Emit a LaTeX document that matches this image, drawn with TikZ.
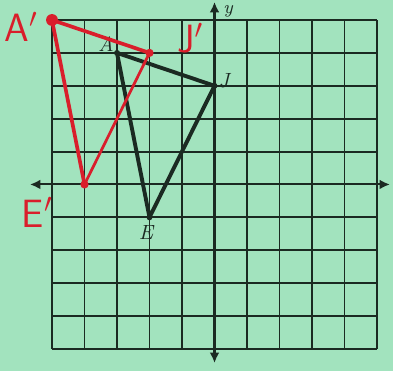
\documentclass[tikz,border=0pt]{standalone}
\usepackage{tikz}
\usetikzlibrary{arrows.meta}
\definecolor{paper}{HTML}{A2E3BE}
\definecolor{pencil}{HTML}{1B2A22}
\definecolor{pen}{HTML}{D91E2B}

\begin{document}
\begin{tikzpicture}[x=0.5cm, y=0.506cm,
        gridline/.style={pencil, line width=0.85pt},
        axis/.style={{Latex[length=1.6mm,width=1.5mm]}-{Latex[length=1.6mm,width=1.5mm]}, pencil, line width=0.9pt},
        orig/.style={pencil, line width=1.7pt, line join=round},
        image/.style={pen, line width=1.6pt, line join=round, line cap=round},
        odot/.style={circle, fill=pencil, inner sep=0pt, minimum size=2.6pt},
        idot/.style={circle, fill=pen, inner sep=0pt, minimum size=3.6pt},
        olabel/.style={font=\small\itshape, text=pencil, inner sep=0pt},
        ilabel/.style={font=\LARGE\sffamily, text=pen, inner sep=0pt}
    ]
        \fill[paper] (-6.6,-5.669) rectangle (5.492,5.608);
        \useasboundingbox (-6.6,-5.669) rectangle (5.492,5.608);

        % grid
        \foreach \k in {-5,...,5} {
            \draw[gridline] (\k,-5) -- (\k,5);
            \draw[gridline] (-5,\k) -- (5,\k);
        }

        % axes
        \coordinate (xmin) at (-5.68,0);
        \coordinate (xmax) at (5.4,0);
        \coordinate (ymin) at (0,-5.43);
        \coordinate (ymax) at (0,5.55);
        \draw[axis] (xmin) -- (xmax);
        \draw[axis] (ymin) -- (ymax);
        \node[olabel, font=\footnotesize\itshape] (ylab) at (0.42,5.27) {y};

        % triangle AJE
        \node[odot] (A) at (-3,4) {};
        \node[odot] (J) at (0,3) {};
        \node[odot] (E) at (-2,-1) {};
        \draw[orig] (A.center) -- (J.center) -- (E.center) -- cycle;
        \node[olabel] (Alab) at (-3.34,4.27) {A};
        \node[olabel] (Jlab) at (0.29,3.15) {J};
        \node[olabel] (Elab) at (-2.11,-1.47) {E};

        % image A'J'E'
        \node[idot, minimum size=5.2pt] (A1) at (-5,5) {};
        \node[idot] (J1) at (-2,4) {};
        \node[idot] (E1) at (-4,0) {};
        \draw[image] (A1.center) -- (J1.center);
        \draw[image] (A1.center) -- (E1.center);
        \draw[image, line width=1.2pt] (E1.center) -- (J1.center);
        \node[ilabel] (A1lab) at (-5.95,4.8) {A$'$};
        \node[ilabel] (J1lab) at (-0.75,4.45) {J$'$};
        \node[ilabel] (E1lab) at (-5.45,-0.85) {E$'$};
    \end{tikzpicture}
\end{document}
